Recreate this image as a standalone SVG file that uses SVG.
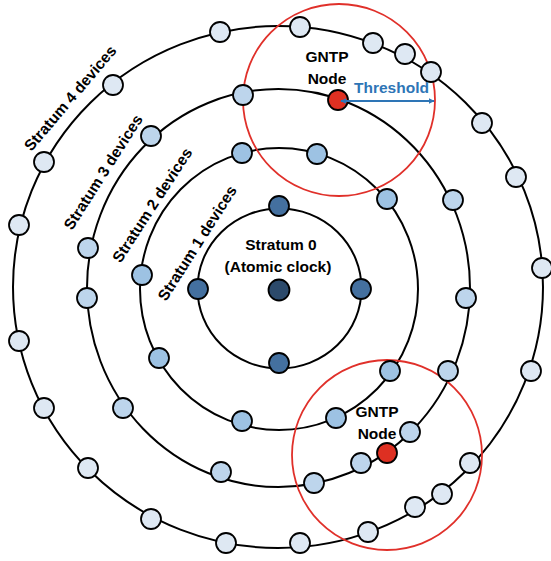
<svg xmlns="http://www.w3.org/2000/svg" width="551" height="561" viewBox="0 0 551 561">
<style>
.ring{fill:none;stroke:#000;stroke-width:2}
.halo{fill:none;stroke:#E0302A;stroke-width:1.8}
.n{stroke:#000;stroke-width:1.8}
.s4{fill:#DEE8F3}
.s3{fill:#BDD5EC}
.s2{fill:#9DC2E3}
.s1{fill:#44709F}
.s0{fill:#2C4A6B}
.red{fill:#DE3022}
text{font-family:"Liberation Sans",Arial,sans-serif;font-weight:bold;font-size:15.5px;fill:#000}
.lbl{text-anchor:middle}
.thr{fill:#2E75B6}
</style>
<defs>
<marker id="ah" viewBox="0 0 10 10" refX="9" refY="5" markerWidth="6" markerHeight="6" orient="auto-start-reverse" markerUnits="userSpaceOnUse">
<path d="M0,0 L10,5 L0,10 z" fill="#2E75B6"/>
</marker>
</defs>
<g id="rings">
<ellipse class="ring" cx="278" cy="287" rx="265" ry="261"/>
<ellipse class="ring" cx="278.5" cy="288" rx="191.5" ry="199"/>
<ellipse class="ring" cx="279" cy="289" rx="139" ry="141"/>
<ellipse class="ring" cx="279.5" cy="288.5" rx="82" ry="80"/>
</g>
<g id="thresholds">
<circle class="halo" cx="339" cy="100" r="96"/>
<circle class="halo" cx="387" cy="455" r="95"/>
</g>
<g id="stratum4">
<circle id="n4-1" class="n s4" cx="220" cy="32" r="10"/>
<circle id="n4-2" class="n s4" cx="300" cy="27" r="10"/>
<circle id="n4-3" class="n s4" cx="373" cy="43" r="10"/>
<circle id="n4-4" class="n s4" cx="405" cy="54" r="10"/>
<circle id="n4-5" class="n s4" cx="431" cy="72" r="10"/>
<circle id="n4-6" class="n s4" cx="482" cy="123" r="10"/>
<circle id="n4-7" class="n s4" cx="516" cy="177" r="10"/>
<circle id="n4-8" class="n s4" cx="542" cy="268" r="10"/>
<circle id="n4-9" class="n s4" cx="531" cy="371" r="10"/>
<circle id="n4-10" class="n s4" cx="470" cy="463" r="10"/>
<circle id="n4-11" class="n s4" cx="442" cy="494" r="10"/>
<circle id="n4-12" class="n s4" cx="415" cy="507" r="10"/>
<circle id="n4-13" class="n s4" cx="368" cy="532" r="10"/>
<circle id="n4-14" class="n s4" cx="300" cy="543" r="10"/>
<circle id="n4-15" class="n s4" cx="226" cy="543" r="10"/>
<circle id="n4-16" class="n s4" cx="151" cy="519" r="10"/>
<circle id="n4-17" class="n s4" cx="88" cy="468" r="10"/>
<circle id="n4-18" class="n s4" cx="44" cy="408" r="10"/>
<circle id="n4-19" class="n s4" cx="19" cy="341" r="10"/>
<circle id="n4-20" class="n s4" cx="19" cy="225" r="10"/>
<circle id="n4-21" class="n s4" cx="44" cy="162" r="10"/>
<circle id="n4-22" class="n s4" cx="113" cy="85" r="10"/>
</g>
<g id="stratum3">
<circle id="n3-1" class="n s3" cx="243" cy="95" r="10"/>
<circle id="n3-2" class="n s3" cx="453" cy="200" r="10"/>
<circle id="n3-3" class="n s3" cx="466" cy="298" r="10"/>
<circle id="n3-4" class="n s3" cx="448" cy="371" r="10"/>
<circle id="n3-5" class="n s3" cx="410" cy="432" r="10"/>
<circle id="n3-6" class="n s3" cx="361" cy="463" r="10"/>
<circle id="n3-7" class="n s3" cx="314" cy="483" r="10"/>
<circle id="n3-8" class="n s3" cx="221" cy="472" r="10"/>
<circle id="n3-9" class="n s3" cx="123" cy="408" r="10"/>
<circle id="n3-10" class="n s3" cx="87" cy="298" r="10"/>
<circle id="n3-11" class="n s3" cx="88" cy="248" r="10"/>
<circle id="n3-12" class="n s3" cx="151" cy="136" r="10"/>
</g>
<g id="gntp1"><circle class="n red" cx="338" cy="100" r="10"/></g>
<g id="gntp2"><circle class="n red" cx="387" cy="453" r="10"/></g>
<g id="stratum2">
<circle id="n2-1" class="n s2" cx="242" cy="153" r="10"/>
<circle id="n2-2" class="n s2" cx="317" cy="154" r="10"/>
<circle id="n2-3" class="n s2" cx="387" cy="199" r="10"/>
<circle id="n2-4" class="n s2" cx="390" cy="371" r="10"/>
<circle id="n2-5" class="n s2" cx="336" cy="418" r="10"/>
<circle id="n2-6" class="n s2" cx="242" cy="421" r="10"/>
<circle id="n2-7" class="n s2" cx="159" cy="358" r="10"/>
<circle id="n2-8" class="n s2" cx="142" cy="275" r="10"/>
</g>
<g id="stratum1">
<circle id="n1-1" class="n s1" cx="279" cy="206" r="10"/>
<circle id="n1-2" class="n s1" cx="198" cy="289" r="10"/>
<circle id="n1-3" class="n s1" cx="361" cy="289" r="10"/>
<circle id="n1-4" class="n s1" cx="279" cy="363" r="10"/>
</g>
<g id="stratum0">
<circle class="n s0" cx="279" cy="290" r="10.5"/>
<text class="lbl" x="281" y="250">Stratum 0</text>
<text class="lbl" x="278" y="272">(Atomic clock)</text>
</g>
<g id="connectors">
<line x1="341" y1="101" x2="434" y2="101" stroke="#2E75B6" stroke-width="1.8" marker-start="url(#ah)" marker-end="url(#ah)"/>
</g>
<g id="labels">
<text class="lbl" x="327" y="62" font-size="15">GNTP</text>
<text class="lbl" x="327" y="84" font-size="15">Node</text>
<text class="thr" x="354" y="93">Threshold</text>
<text class="lbl" x="377" y="417" font-size="15">GNTP</text>
<text class="lbl" x="377" y="439" font-size="15">Node</text>
<text class="lbl" transform="translate(74.3,101.6) rotate(-49.6)">Stratum 4 devices</text>
<text class="lbl" transform="translate(107.7,175) rotate(-57.5)">Stratum 3 devices</text>
<text class="lbl" transform="translate(156.7,208) rotate(-57)">Stratum 2 devices</text>
<text class="lbl" transform="translate(201.7,246) rotate(-57.5)">Stratum 1 devices</text>
</g>
</svg>
